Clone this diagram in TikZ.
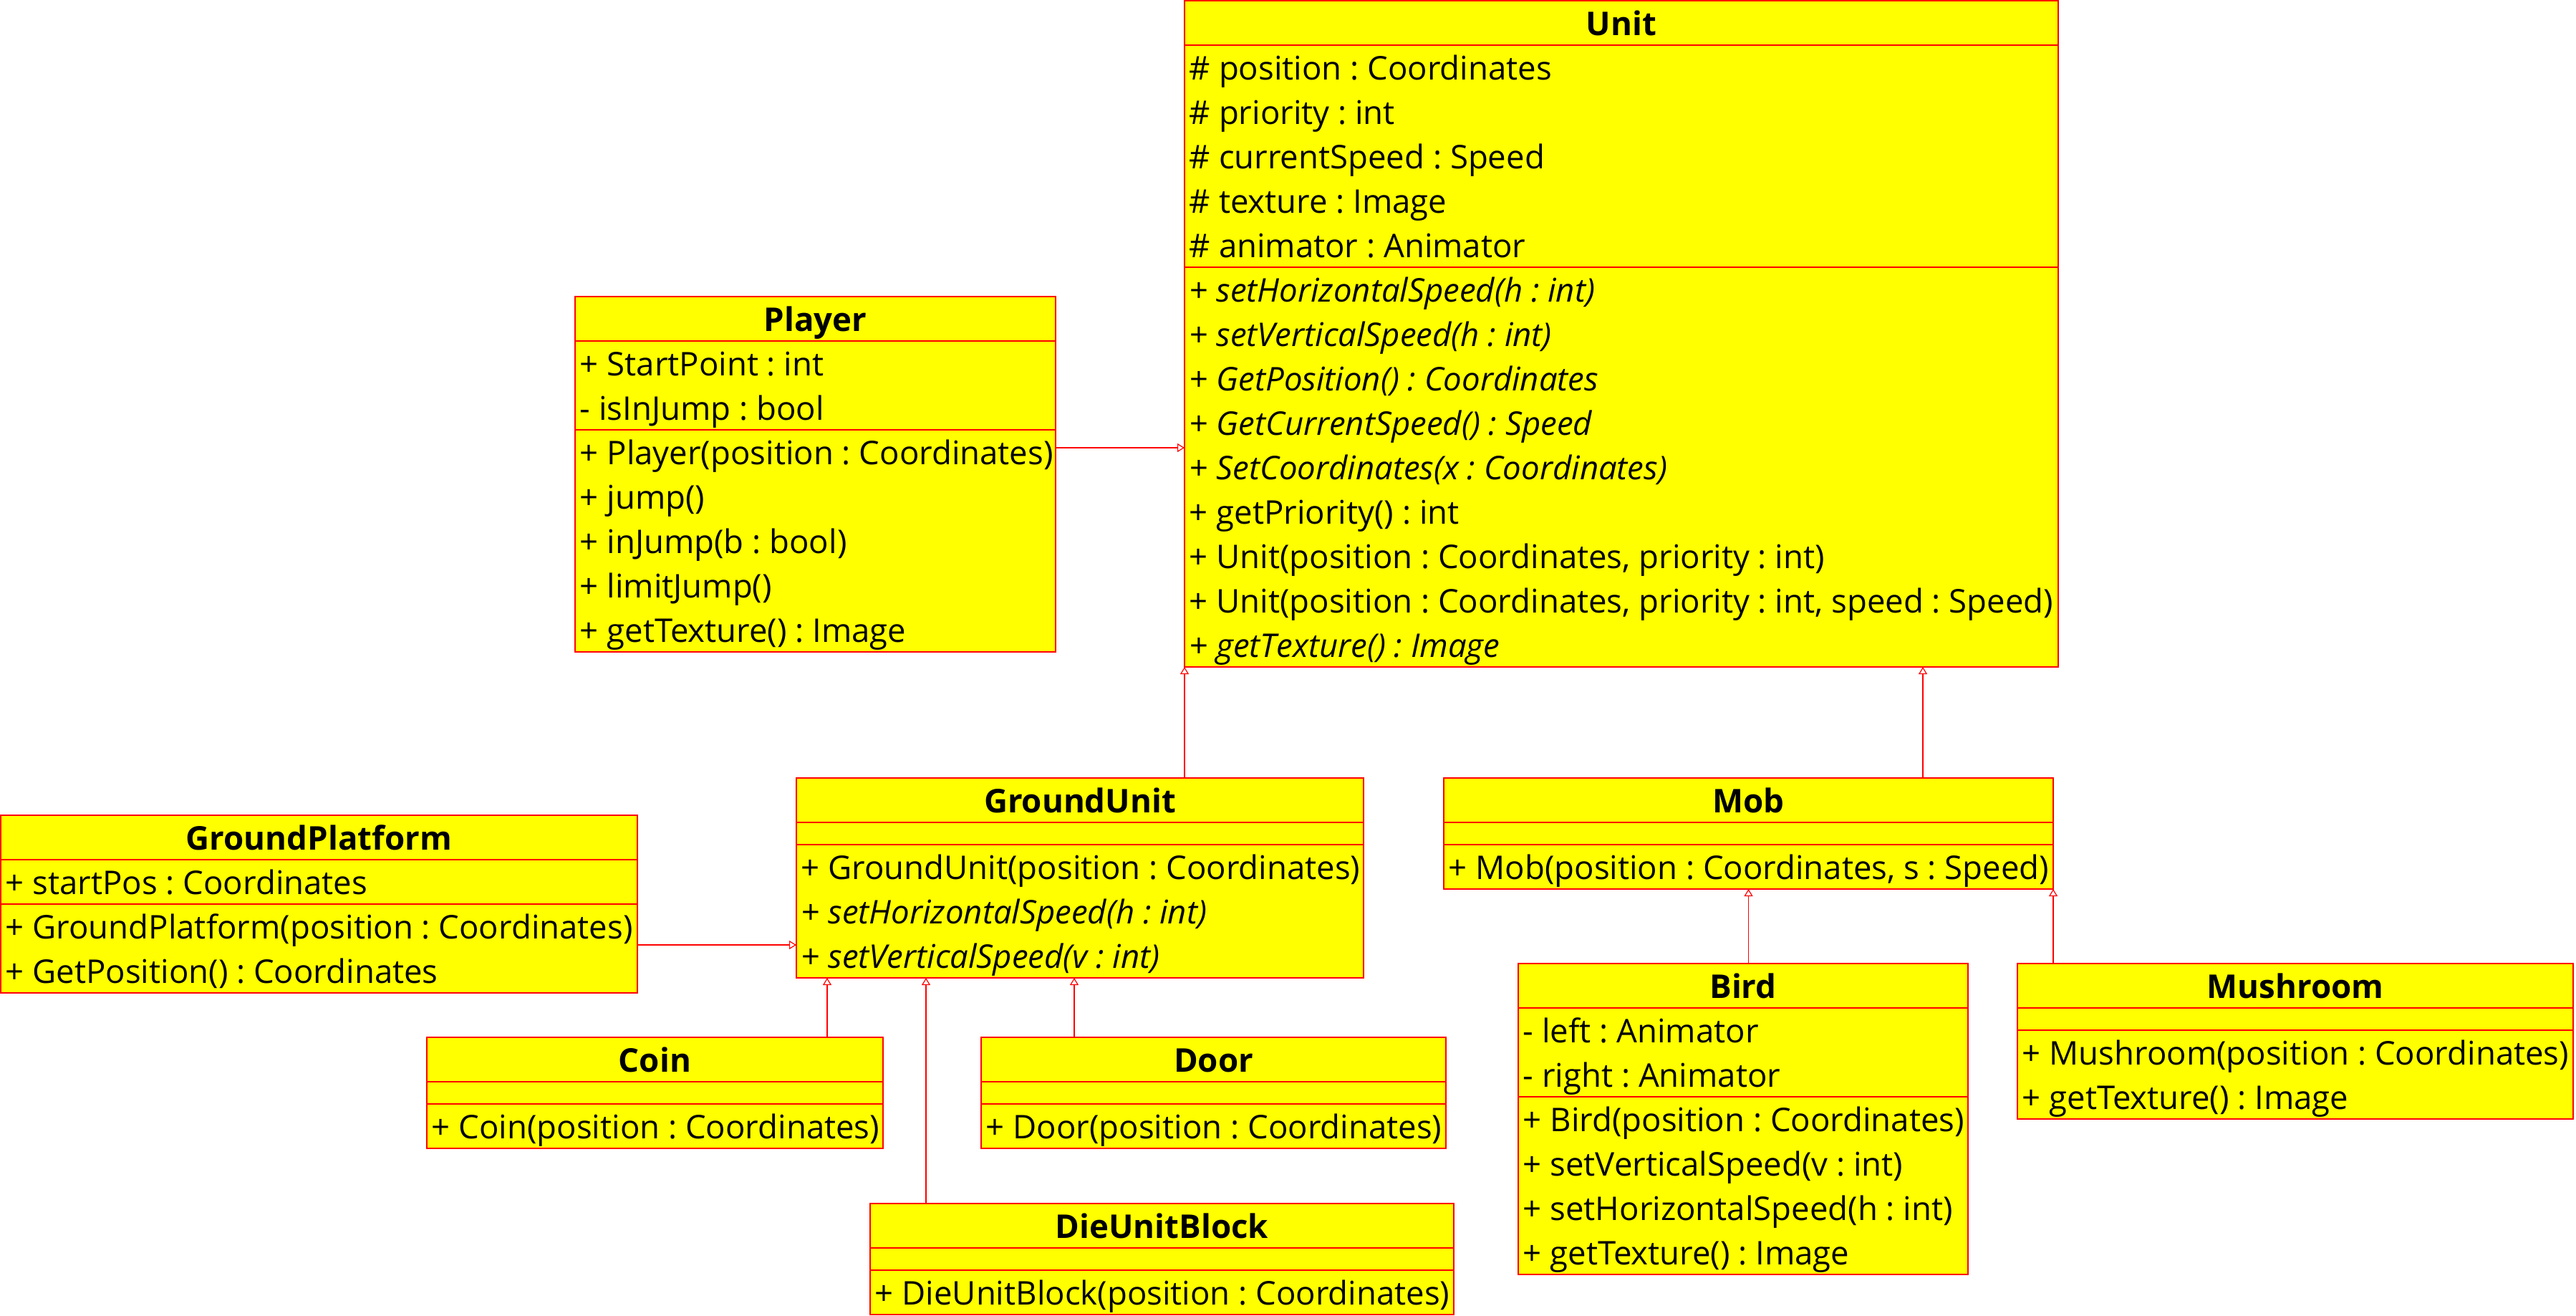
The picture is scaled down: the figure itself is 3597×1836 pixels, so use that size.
\documentclass[tikz,border=0pt]{standalone}
\usepackage{fontspec}
\setmainfont{Open Sans}
\frenchspacing
\usetikzlibrary{arrows.meta}
\definecolor{umlfill}{HTML}{FFFF00}
\definecolor{umlline}{HTML}{FF0000}
\tikzset{
  classbox/.style={draw=umlline, fill=umlfill, line width=0.3pt, inner sep=0pt, outer sep=0pt, anchor=north west},
  septr/.style={draw=umlline, line width=0.3pt},
  titletext/.style={font=\fontsize{11.4pt}{13pt}\selectfont\frenchspacing\bfseries, anchor=base, inner sep=0pt},
  rowtext/.style={font=\fontsize{11.38pt}{13pt}\selectfont\frenchspacing, anchor=base west, inner sep=0pt},
  itrow/.style={rowtext, font=\fontsize{11.38pt}{13pt}\selectfont\frenchspacing\itshape},
  inh/.style={draw=umlline, line width=0.3pt, -{Triangle[open, length=2.5pt, width=3pt]}},
}
% name, left, top, right, bottom, title
\newcommand\umlclass[6]{%
  \node[classbox, minimum width={(#4-#2)*0.25pt}, minimum height={(#5-#3)*0.25pt}] (#1) at (#2,#3) {};
  \node[titletext] (#1-title) at ({(#2+#4)/2},{#3+48}) {#6};
  \draw[septr] (#2,#3+62) -- (#4,#3+62);
}
% left, right, y
\newcommand\umlsep[3]{\draw[septr] (#1,#3) -- (#2,#3);}
% name, left, rowtop, text
\newcommand\umlrow[4]{\node[rowtext] (#1) at (#2+6,#3+48) {#4};}
\newcommand\umlitrow[4]{\node[itrow] (#1) at (#2+6,#3+48) {#4};}
\begin{document}
\begin{tikzpicture}[x=0.25pt, y=-0.25pt]
\useasboundingbox (0,0) rectangle (3597,1836);

% Unit
\umlclass{Unit}{1654}{1}{2874}{931}{Unit}
\umlrow{u1}{1654}{63}{\# position : Coordinates}
\umlrow{u2}{1654}{125}{\# priority : int}
\umlrow{u3}{1654}{187}{\# currentSpeed : Speed}
\umlrow{u4}{1654}{249}{\# texture : Image}
\umlrow{u5}{1654}{311}{\# animator : Animator}
\umlsep{1654}{2874}{373}
\umlitrow{u6}{1654}{373}{+ setHorizontalSpeed(h : int)}
\umlitrow{u7}{1654}{435}{+ setVerticalSpeed(h : int)}
\umlitrow{u8}{1654}{497}{+ GetPosition() : Coordinates}
\umlitrow{u9}{1654}{559}{+ GetCurrentSpeed() : Speed}
\umlitrow{u10}{1654}{621}{+ SetCoordinates(x : Coordinates)}
\umlrow{u11}{1654}{683}{+ getPriority() : int}
\umlrow{u12}{1654}{745}{+ Unit(position : Coordinates, priority : int)}
\umlrow{u13}{1654}{807}{+ Unit(position : Coordinates, priority : int, speed : Speed)}
\umlitrow{u14}{1654}{869}{+ getTexture() : Image}

% Player
\umlclass{Player}{803}{414}{1474}{910}{Player}
\umlrow{p1}{803}{476}{+ StartPoint : int}
\umlrow{p2}{803}{538}{- isInJump : bool}
\umlsep{803}{1474}{600}
\umlrow{p3}{803}{600}{+ Player(position : Coordinates)}
\umlrow{p4}{803}{662}{+ jump()}
\umlrow{p5}{803}{724}{+ inJump(b : bool)}
\umlrow{p6}{803}{786}{+ limitJump()}
\umlrow{p7}{803}{848}{+ getTexture() : Image}

% GroundPlatform
\umlclass{GP}{1}{1138}{890}{1386}{GroundPlatform}
\umlrow{gp1}{1}{1200}{+ startPos : Coordinates}
\umlsep{1}{890}{1262}
\umlrow{gp2}{1}{1262}{+ GroundPlatform(position : Coordinates)}
\umlrow{gp3}{1}{1324}{+ GetPosition() : Coordinates}

% GroundUnit
\umlclass{GU}{1112}{1086}{1904}{1365}{GroundUnit}
\umlsep{1112}{1904}{1179}
\umlrow{gu1}{1112}{1179}{+ GroundUnit(position : Coordinates)}
\umlitrow{gu2}{1112}{1241}{+ setHorizontalSpeed(h : int)}
\umlitrow{gu3}{1112}{1303}{+ setVerticalSpeed(v : int)}

% Mob
\umlclass{Mob}{2016}{1086}{2867}{1241}{Mob}
\umlsep{2016}{2867}{1179}
\umlrow{m1}{2016}{1179}{+ Mob(position : Coordinates, s : Speed)}

% Coin
\umlclass{Coin}{596}{1448}{1233}{1603}{Coin}
\umlsep{596}{1233}{1541}
\umlrow{c1}{596}{1541}{+ Coin(position : Coordinates)}

% Door
\umlclass{Door}{1370}{1448}{2019}{1603}{Door}
\umlsep{1370}{2019}{1541}
\umlrow{d1}{1370}{1541}{+ Door(position : Coordinates)}

% DieUnitBlock
\umlclass{DUB}{1215}{1680}{2030}{1835}{DieUnitBlock}
\umlsep{1215}{2030}{1773}
\umlrow{db1}{1215}{1773}{+ DieUnitBlock(position : Coordinates)}

% Bird
\umlclass{Bird}{2120}{1345}{2748}{1779}{Bird}
\umlrow{b1}{2120}{1407}{- left : Animator}
\umlrow{b2}{2120}{1469}{- right : Animator}
\umlsep{2120}{2748}{1531}
\umlrow{b3}{2120}{1531}{+ Bird(position : Coordinates)}
\umlrow{b4}{2120}{1593}{+ setVerticalSpeed(v : int)}
\umlrow{b5}{2120}{1655}{+ setHorizontalSpeed(h : int)}
\umlrow{b6}{2120}{1717}{+ getTexture() : Image}

% Mushroom
\umlclass{Mush}{2817}{1345}{3593}{1562}{Mushroom}
\umlsep{2817}{3593}{1438}
\umlrow{mu1}{2817}{1438}{+ Mushroom(position : Coordinates)}
\umlrow{mu2}{2817}{1500}{+ getTexture() : Image}

% Inheritance connectors
\draw[inh] ([yshift=9.25pt]Player.east) coordinate (cp) -- (cp -| Unit.west);
\draw[inh] (GU.north -| Unit.south west) -- (Unit.south west);
\draw[inh] ([xshift=60.875pt]Mob.north) coordinate (cm) -- (cm |- Unit.south);
\draw[inh] ([yshift=-14.25pt]GP.east) coordinate (cg) -- (cg -| GU.west);
\draw[inh] ([xshift=60.125pt]Coin.north) coordinate (cc) -- (cc |- GU.south);
\draw[inh] ([xshift=-82.375pt]DUB.north) coordinate (cd) -- (cd |- GU.south);
\draw[inh] ([xshift=-48.625pt]Door.north) coordinate (cdo) -- (cdo |- GU.south);
\draw[inh] (Bird.north -| Mob.south) -- (Mob.south);
\draw[inh] (Mush.north -| Mob.south east) -- (Mob.south east);
\end{tikzpicture}
\end{document}
